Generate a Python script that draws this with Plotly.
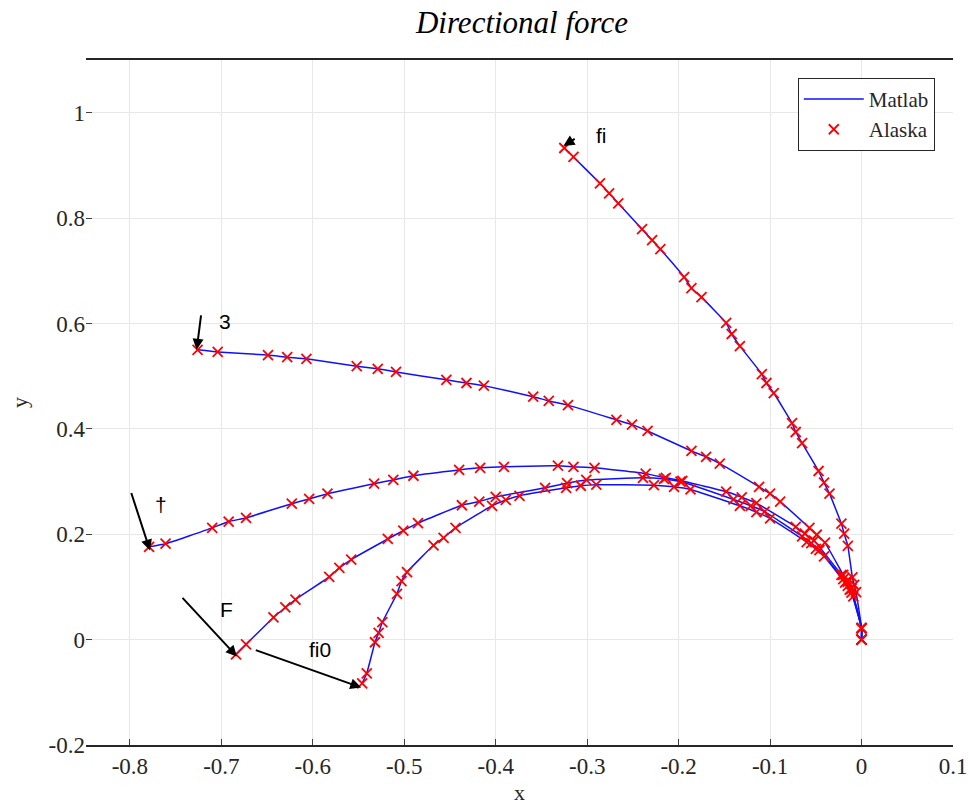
import plotly.graph_objects as go

# ---- data ----
fi_x = [-0.325, -0.315, -0.286, -0.276, -0.266, -0.240, -0.229, -0.220, -0.194, -0.186, -0.175,
        -0.148, -0.142, -0.133, -0.109, -0.104, -0.096, -0.076, -0.072, -0.065, -0.047, -0.041,
        -0.035, -0.022, -0.019, -0.015, -0.010, -0.008, -0.006, 0.0, 0.0]
fi_y = [0.933, 0.916, 0.866, 0.847, 0.828, 0.779, 0.758, 0.741, 0.688, 0.667, 0.650,
        0.601, 0.580, 0.557, 0.504, 0.487, 0.468, 0.411, 0.394, 0.373, 0.320, 0.298,
        0.277, 0.220, 0.201, 0.178, 0.118, 0.104, 0.090, 0.022, 0.0]

three_x = [-0.726, -0.704, -0.649, -0.628, -0.607, -0.552, -0.529, -0.509, -0.454, -0.432, -0.413,
           -0.359, -0.342, -0.321, -0.268, -0.251, -0.234, -0.186, -0.170, -0.155, -0.112, -0.100,
           -0.089, -0.057, -0.049, -0.040, -0.020, -0.015, -0.011, 0.0, 0.0]
three_y = [0.550, 0.546, 0.540, 0.536, 0.533, 0.519, 0.514, 0.508, 0.493, 0.487, 0.482,
           0.461, 0.453, 0.445, 0.417, 0.408, 0.396, 0.358, 0.347, 0.334, 0.290, 0.277,
           0.262, 0.212, 0.199, 0.184, 0.123, 0.110, 0.097, 0.022, 0.0]

dag_x = [-0.779, -0.761, -0.710, -0.692, -0.673, -0.623, -0.604, -0.584, -0.533, -0.512, -0.490,
         -0.440, -0.417, -0.391, -0.332, -0.315, -0.292, -0.236, -0.214, -0.196, -0.148, -0.131,
         -0.115, -0.072, -0.062, -0.052, -0.022, -0.017, -0.012, 0.0, 0.0]
dag_y = [0.176, 0.182, 0.212, 0.224, 0.231, 0.258, 0.267, 0.277, 0.296, 0.303, 0.311,
         0.322, 0.326, 0.328, 0.330, 0.328, 0.326, 0.315, 0.307, 0.301, 0.281, 0.270,
         0.259, 0.214, 0.201, 0.188, 0.123, 0.110, 0.096, 0.022, 0.0]

F_x = [-0.684, -0.673, -0.643, -0.630, -0.619, -0.582, -0.571, -0.558, -0.518, -0.501, -0.485,
       -0.437, -0.418, -0.400, -0.346, -0.322, -0.301, -0.239, -0.216, -0.198, -0.140, -0.121,
       -0.106, -0.065, -0.055, -0.046, -0.020, -0.015, -0.011, 0.0, 0.0]
F_y = [-0.028, -0.009, 0.042, 0.061, 0.076, 0.119, 0.136, 0.152, 0.191, 0.207, 0.221,
       0.255, 0.262, 0.271, 0.288, 0.297, 0.303, 0.307, 0.305, 0.300, 0.266, 0.254,
       0.243, 0.196, 0.183, 0.170, 0.115, 0.102, 0.089, 0.022, 0.0]

fi0_x = [-0.546, -0.541, -0.532, -0.528, -0.524, -0.508, -0.503, -0.497, -0.468, -0.457, -0.444,
         -0.404, -0.389, -0.374, -0.323, -0.307, -0.290, -0.227, -0.205, -0.187, -0.133, -0.115,
         -0.100, -0.060, -0.050, -0.041, -0.018, -0.013, -0.009, 0.0, 0.0]
fi0_y = [-0.083, -0.064, -0.005, 0.013, 0.033, 0.087, 0.111, 0.128, 0.179, 0.193, 0.212,
         0.254, 0.265, 0.273, 0.288, 0.292, 0.294, 0.293, 0.290, 0.285, 0.254, 0.242,
         0.230, 0.185, 0.172, 0.158, 0.108, 0.095, 0.082, 0.022, 0.0]

curves = [(fi_x, fi_y), (three_x, three_y), (dag_x, dag_y), (F_x, F_y), (fi0_x, fi0_y)]

x_ticks = [-0.8, -0.7, -0.6, -0.5, -0.4, -0.3, -0.2, -0.1, 0, 0.1]
x_tick_text = ["-0.8", "-0.7", "-0.6", "-0.5", "-0.4", "-0.3", "-0.2", "-0.1", "0", "0.1"]
y_ticks = [-0.2, 0, 0.2, 0.4, 0.6, 0.8, 1]
y_tick_text = ["-0.2", "0", "0.2", "0.4", "0.6", "0.8", "1"]

SERIF = "Liberation Serif"

fig = go.Figure()

for i, (cx, cy) in enumerate(curves):
    fig.add_trace(go.Scatter(
        x=cx, y=cy, mode="lines", name="Matlab", legendgroup="matlab",
        showlegend=(i == 0),
        line=dict(color="#1010ff", width=1.5, shape="spline", smoothing=0.35)))

for i, (cx, cy) in enumerate(curves):
    fig.add_trace(go.Scatter(
        x=cx, y=cy, mode="markers", name="Alaska", legendgroup="alaska",
        showlegend=(i == 0),
        marker=dict(symbol="x-thin", size=10, color="#ff0000",
                    line=dict(width=1.8, color="#ff0000"))))

# arrows (tip -> tail in data coordinates) and labels
arrows = [
    (-0.326, 0.937, -0.312, 0.952),
    (-0.727, 0.550, -0.722, 0.618),
    (-0.778, 0.169, -0.799, 0.281),
    (-0.683, -0.032, -0.744, 0.082),
    (-0.547, -0.091, -0.664, -0.019),
]
for tx, ty, sx, sy in arrows:
    fig.add_annotation(x=tx, y=ty, ax=sx, ay=sy, xref="x", yref="y", axref="x", ayref="y",
                       showarrow=True, arrowhead=2, arrowsize=1.1, arrowwidth=2,
                       arrowcolor="black", text="")

labels = [("fi", -0.284, 0.957), ("3", -0.696, 0.603), ("†", -0.766, 0.256),
          ("F", -0.694, 0.057), ("fi0", -0.592, -0.019)]
for t, lx, ly in labels:
    fig.add_annotation(x=lx, y=ly, xref="x", yref="y", text=t, showarrow=False,
                       font=dict(family="Liberation Sans", size=21, color="black"))

axis_common = dict(showgrid=True, gridcolor="#e8e8e8", gridwidth=1, zeroline=False,
                   tickfont=dict(family=SERIF, size=23, color="#262626"),
                   ticks="inside", ticklen=6, tickcolor="#404040", automargin=False)

fig.update_xaxes(range=[-0.848, 0.1], tickvals=x_ticks, ticktext=x_tick_text,
                 showline=True, linecolor="#262626", linewidth=1.5, mirror=True,
                 title=dict(text="x", font=dict(family=SERIF, size=22, color="#262626"), standoff=10),
                 **axis_common)
fig.update_yaxes(range=[-0.2, 1.1], tickvals=y_ticks, ticktext=y_tick_text,
                 showline=False,
                 title=dict(text="y", font=dict(family=SERIF, size=22, color="#262626"), standoff=14),
                 **axis_common)

fig.update_layout(
    width=969, height=805,
    margin=dict(l=86, r=16, t=60, b=60),
    paper_bgcolor="white", plot_bgcolor="white",
    title=dict(text="<i>Directional force</i>", x=0.5387, xanchor="center", y=0.973, yanchor="middle",
               font=dict(family=SERIF, size=31, color="black")),
    legend=dict(x=0.979, xanchor="right", y=0.974, yanchor="top",
                bgcolor="white", bordercolor="#262626", borderwidth=1,
                font=dict(family=SERIF, size=21, color="#262626"),
                itemwidth=60, tracegroupgap=0),
    showlegend=True,
)

fig.write_html("out.html")
